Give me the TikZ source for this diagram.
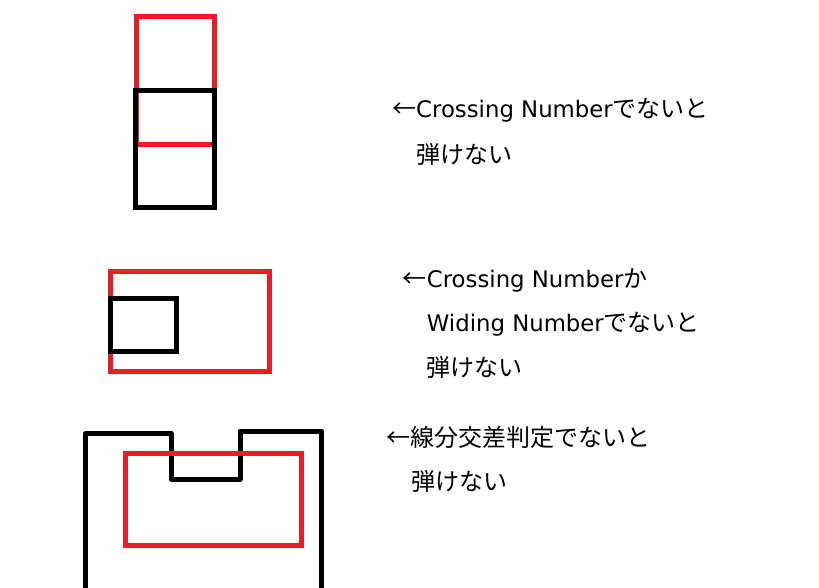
\documentclass[tikz,border=0pt]{standalone}
\usepackage{fontspec}
\setmainfont{DejaVu Sans}[Scale=0.95]
\newfontfamily\jp{Noto Sans CJK JP}
\usepackage{tikz}
\usetikzlibrary{positioning}
\definecolor{paintred}{RGB}{237,28,36}

\tikzset{
  redbox/.style={draw=paintred, line width=5pt},
  blackbox/.style={draw=black, line width=5pt},
  blackwall/.style={draw=black, line width=5pt, line cap=round, line join=round},
  note/.style={anchor=base west, inner sep=0pt, font=\fontsize{24}{28}\selectfont}
}

\begin{document}
\begin{tikzpicture}[x=1pt, y=-1pt]
  \useasboundingbox (0,0) rectangle (819,587);

  % Case 1: boxes stacked vertically
  \draw[redbox] (136.5,16.5) rectangle (214.5,144);
  \draw[blackbox] (135,90) rectangle (214.5,207);
  \node[note] (t1a) at (392,117) {{\jp ←}Crossing Number{\jp でないと}};
  \node[note] (t1b) at (416,163) {\jp 弾けない};

  % Case 2: box inside a box
  \draw[redbox] (110,271.5) rectangle (269.3,371);
  \draw[blackbox] (110,298.5) rectangle (176.5,351);
  \node[note] (t2a) at (402.7,287) {{\jp ←}Crossing Number{\jp か}};
  \node[note] (t2b) at (426.7,331.7) {Widing Number{\jp でないと}};
  \node[note] (t2c) at (426.7,376.7) {\jp 弾けない};

  % Case 3: notched outline under a box
  \draw[blackwall] (85.7,590) -- (85.7,433.3) -- (171,433.3) -- (171,479)
    -- (240,479) -- (240,431) -- (321.7,431) -- (321.7,590);
  \draw[redbox] (125,453) rectangle (301,545);
  \node[note] (t3a) at (386.7,446.7) {\jp ←線分交差判定でないと};
  \node[note] (t3b) at (411.7,490) {\jp 弾けない};
\end{tikzpicture}
\end{document}
